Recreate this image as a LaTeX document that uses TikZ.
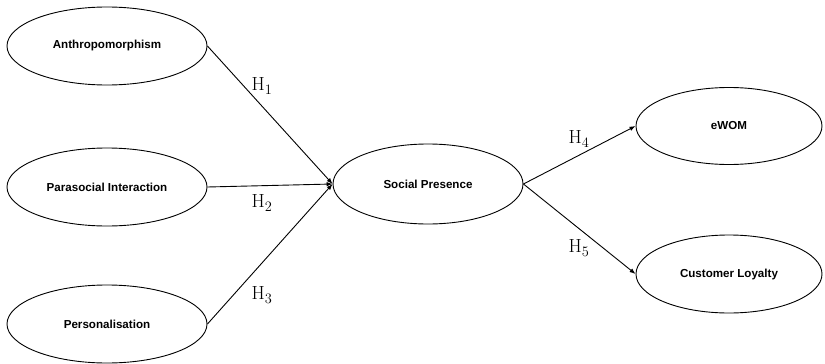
\documentclass[tikz,border=0pt]{standalone}
\usepackage{fontspec}
\setsansfont{Liberation Sans}
\usetikzlibrary{shapes.geometric, arrows.meta}

\begin{document}
\begin{tikzpicture}[
  x=1pt, y=-1pt,
  construct/.style={draw, ellipse, line width=0.9pt, minimum width=200pt,
                    minimum height=78pt, inner sep=0pt,
                    font=\sffamily\bfseries\fontsize{11.6}{13}\selectfont},
  path/.style={draw, line width=0.9pt, -{Latex[length=6pt, width=4.5pt]}},
  hyp/.style={font=\fontsize{19}{21}\selectfont},
]
  \useasboundingbox (0,0) rectangle (825,364);

  % Antecedents on the left
  \node[construct] (anthro) at (107,46)  {Anthropomorphism};
  \node[construct] (para)   at (107,187) {Parasocial Interaction};
  \node[construct] (pers)   at (107,324) {Personalisation};

  % Mediator
  \node[construct, minimum width=190pt, minimum height=80pt] (social) at (428,184) {Social Presence};

  % Outcomes on the right
  \node[construct, minimum width=186pt, minimum height=77pt] (ewom)  at (729,126) {eWOM};
  \node[construct, minimum width=186pt, minimum height=78pt] (loyal) at (729,274) {Customer Loyalty};

  % Hypothesised paths
  \draw[path] (anthro.east) -- (social.west);
  \draw[path] (para.east)   -- (social.west);
  \draw[path] (pers.east)   -- (social.west);
  \draw[path] (social.east) -- (ewom.west);
  \draw[path] (social.east) -- (loyal.west);

  % Path labels
  \node[hyp] (h1) at (262,86)  {$\mathrm{H}_1$};
  \node[hyp] (h2) at (262,203) {$\mathrm{H}_2$};
  \node[hyp] (h3) at (262,295) {$\mathrm{H}_3$};
  \node[hyp] (h4) at (579,139) {$\mathrm{H}_4$};
  \node[hyp] (h5) at (579,248) {$\mathrm{H}_5$};
\end{tikzpicture}
\end{document}
